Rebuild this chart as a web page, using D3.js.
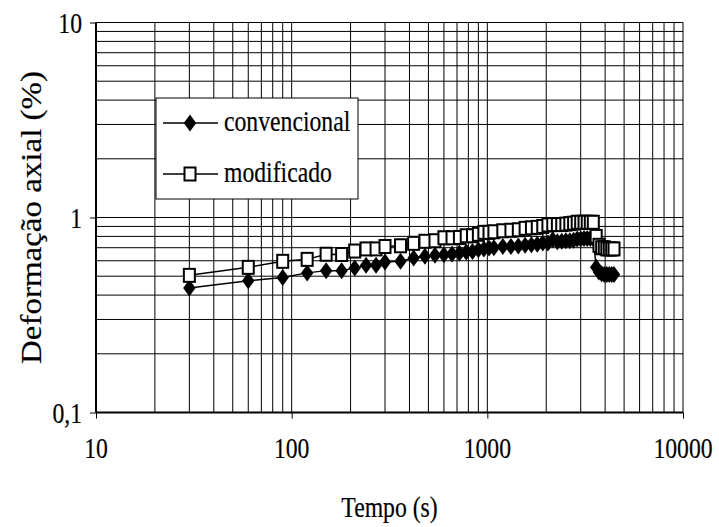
<!DOCTYPE html>
<html>
<head>
<meta charset="utf-8">
<script src="https://cdn.jsdelivr.net/npm/d3@7"></script>
<style>
  html, body { margin: 0; padding: 0; background: #fff; }
  svg { display: block; }
</style>
</head>
<body>
<svg id="chart" width="719" height="527"></svg>
<script>
// Tempo de ensaio (s)
const tempo = [30, 60, 90, 120, 150, 180, 210, 240, 270, 300,
  360, 420, 480, 540, 600, 660, 720, 780, 840, 900, 960, 1020, 1080,
  1200, 1320, 1440, 1560, 1680, 1800, 1920, 2040, 2160, 2280, 2400,
  2520, 2640, 2760, 2880, 3000, 3120, 3240, 3360, 3480,
  3600, 3720, 3840, 3960, 4080, 4200, 4320, 4440];

// Deformação axial (%) - ensaio convencional
const convencional = [0.435, 0.474, 0.493, 0.52, 0.534, 0.534, 0.551, 0.569, 0.569, 0.592,
  0.596, 0.62, 0.632, 0.64, 0.644, 0.65, 0.657, 0.665, 0.67, 0.684, 0.69, 0.697, 0.70,
  0.71, 0.71, 0.715, 0.72, 0.725, 0.73, 0.74, 0.74, 0.77, 0.75, 0.755,
  0.76, 0.76, 0.765, 0.775, 0.775, 0.78, 0.78, 0.78, 0.78,
  0.556, 0.525, 0.515, 0.51, 0.51, 0.51, 0.51, 0.51];

// Deformação axial (%) - ensaio modificado
const modificado = [0.505, 0.555, 0.596, 0.61, 0.648, 0.646, 0.673, 0.69, 0.69, 0.71,
  0.716, 0.737, 0.755, 0.76, 0.787, 0.787, 0.79, 0.806, 0.806, 0.82, 0.839, 0.839, 0.845,
  0.855, 0.86, 0.865, 0.88, 0.885, 0.89, 0.9, 0.915, 0.92, 0.92, 0.92,
  0.925, 0.93, 0.935, 0.945, 0.945, 0.945, 0.945, 0.945, 0.945,
  0.80, 0.72, 0.70, 0.70, 0.69, 0.69, 0.69, 0.69];

const xTickValues = [10, 100, 1000, 10000];
const xTickLabels = ["10", "100", "1000", "10000"];
const yTickValues = [0.1, 1, 10];
const yTickLabels = ["0,1", "1", "10"];

const seriesNames = ["convencional", "modificado"];

const svg = d3.select("#chart");
const plotLeft = 96, plotRight = 683, plotTop = 22.5, plotBottom = 412.5;

const x = d3.scaleLog().domain([10, 10000]).range([plotLeft, plotRight]);
const y = d3.scaleLog().domain([0.1, 10]).range([plotBottom, plotTop]);

const FONT = "'Liberation Serif', 'Times New Roman', 'DejaVu Serif', serif";
const FS = 30;      // tamanho da fonte
const SQ = 0.79;    // compressão horizontal do texto

function label(g, str, px, py, anchor) {
  return g.append("text")
    .attr("transform", `translate(${px},${py}) scale(${SQ},1)`)
    .attr("text-anchor", anchor || "start")
    .attr("font-family", FONT)
    .attr("font-size", FS)
    .attr("fill", "#000")
    .attr("stroke", "#000")
    .attr("stroke-width", 0.2)
    .text(str);
}

// grade (linhas principais e secundárias)
const grid = svg.append("g").attr("stroke", "#000").attr("stroke-width", 1);
const xGrid = x.ticks().filter(d => d > 10);
const yGrid = y.ticks().filter(d => d > 0.1);
grid.selectAll("line.v").data(xGrid).join("line")
  .attr("x1", d => x(d)).attr("x2", d => x(d))
  .attr("y1", plotTop).attr("y2", plotBottom);
grid.selectAll("line.h").data(yGrid).join("line")
  .attr("x1", plotLeft).attr("x2", plotRight)
  .attr("y1", d => y(d)).attr("y2", d => y(d));

// eixos
const xAxis = d3.axisBottom(x).tickValues(xTickValues).tickSize(6).tickFormat("");
const yAxis = d3.axisLeft(y).tickValues(yTickValues).tickSize(6).tickFormat("");
const gx = svg.append("g").attr("transform", `translate(0,${plotBottom})`).call(xAxis);
const gy = svg.append("g").attr("transform", `translate(${plotLeft},0)`).call(yAxis);
gx.select(".domain").attr("stroke", "#000").attr("stroke-width", 2).attr("d", `M${plotLeft},0H${plotRight}`);
gy.select(".domain").attr("stroke", "#000").attr("stroke-width", 2).attr("d", `M0,${plotTop}V${plotBottom}`);
gx.selectAll(".tick line").attr("stroke", "#000");
gy.selectAll(".tick line").attr("stroke", "#000");

// rótulos dos eixos
xTickValues.forEach((v, i) => label(svg, xTickLabels[i], x(v), 458, "middle"));
yTickValues.forEach((v, i) => label(svg, yTickLabels[i], 82, y(v) + 10, "end"));
label(svg, "Tempo (s)", (plotLeft + plotRight) / 2, 517, "middle");

svg.append("text")
  .attr("transform", `translate(41,${(plotTop + plotBottom) / 2}) scale(0.9,1) rotate(-90)`)
  .attr("text-anchor", "middle")
  .attr("font-family", FONT)
  .attr("font-size", 33)
  .attr("fill", "#000")
  .attr("stroke", "#000")
  .attr("stroke-width", 0.2)
  .text("Deformação axial (%)");

// séries
const diamond = "M0,-8.5L6.2,0L0,8.5L-6.2,0Z";
const line = d3.line().x(d => x(d[0])).y(d => y(d[1]));
const dataC = tempo.map((t, i) => [t, convencional[i]]);
const dataM = tempo.map((t, i) => [t, modificado[i]]);
const sqW = 11, sqH = 13;

const plot = svg.append("g");
plot.append("path").datum(dataC).attr("d", line)
  .attr("fill", "none").attr("stroke", "#000").attr("stroke-width", 1.5);
plot.append("g").selectAll("path").data(dataC).join("path")
  .attr("transform", d => `translate(${x(d[0])},${y(d[1])})`)
  .attr("d", diamond).attr("fill", "#000");

plot.append("path").datum(dataM).attr("d", line)
  .attr("fill", "none").attr("stroke", "#000").attr("stroke-width", 1.5);
plot.append("g").selectAll("rect").data(dataM).join("rect")
  .attr("x", d => x(d[0]) - sqW / 2).attr("y", d => y(d[1]) - sqH / 2)
  .attr("width", sqW).attr("height", sqH)
  .attr("fill", "#fff").attr("stroke", "#000").attr("stroke-width", 2);

// legenda
const lg = svg.append("g");
lg.append("rect").attr("x", 156).attr("y", 98).attr("width", 202).attr("height", 101)
  .attr("fill", "#fff").attr("stroke", "#000").attr("stroke-width", 1);
const rows = [123, 174];
rows.forEach((ry, i) => {
  lg.append("line").attr("x1", 163).attr("x2", 218).attr("y1", ry).attr("y2", ry)
    .attr("stroke", "#000").attr("stroke-width", 1.5);
  if (i === 0) {
    lg.append("path").attr("d", diamond).attr("transform", `translate(190,${ry})`).attr("fill", "#000");
  } else {
    lg.append("rect").attr("x", 190 - sqW / 2).attr("y", ry - sqH / 2).attr("width", sqW).attr("height", sqH)
      .attr("fill", "#fff").attr("stroke", "#000").attr("stroke-width", 2);
  }
  label(lg, seriesNames[i], 224, ry + 8);
});
</script>
</body>
</html>
